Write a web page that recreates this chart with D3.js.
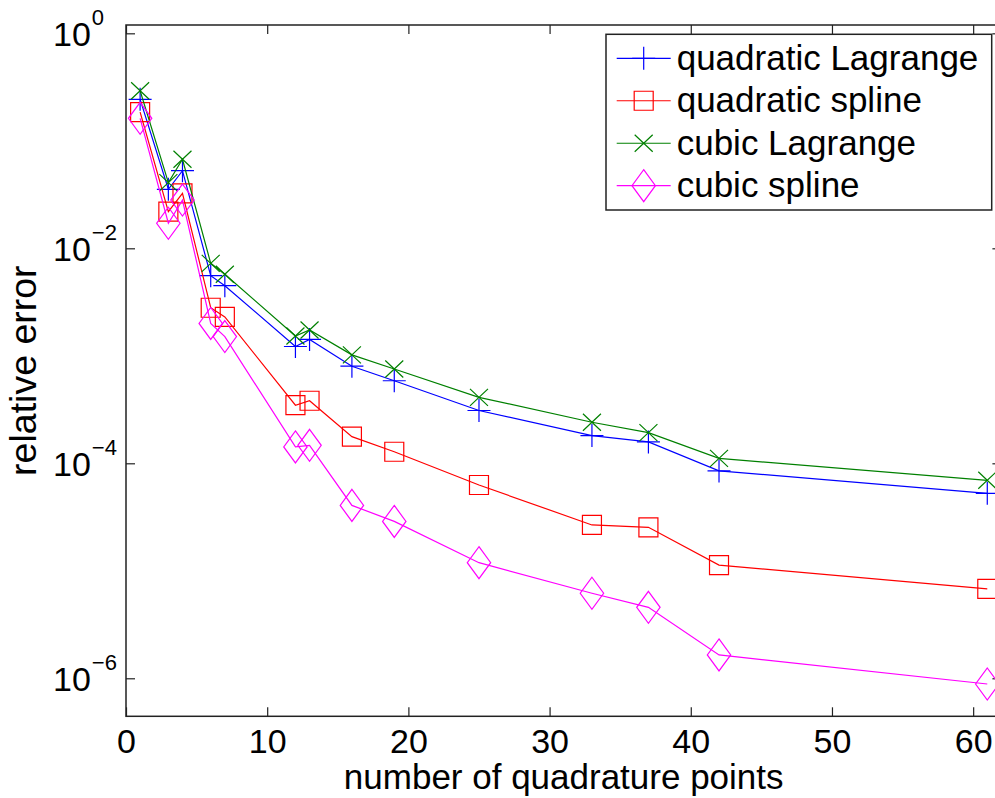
<!DOCTYPE html>
<html>
<head>
<meta charset="utf-8">
<script src="https://cdn.jsdelivr.net/npm/d3@7"></script>
<style>
  body { margin: 0; background: #fff; }
  svg { display: block; font-family: "Liberation Sans", Arial, Helvetica, sans-serif; }
</style>
</head>
<body>
<div id="chart"></div>
<script>
// number of quadrature points (x) and relative error of each method
const nPoints = [1, 3, 4, 6, 7, 12, 13, 16, 19, 25, 33, 37, 42, 61];
const quadLagrange = [0.243, 0.0354, 0.0527, 0.00556, 0.00449, 0.00122, 0.00142, 8.0e-4, 5.86e-4, 3.1e-4, 1.81e-4, 1.58e-4, 8.5e-5, 5.26e-5];
const quadSpline = [0.185, 0.0219, 0.0325, 0.0028, 0.0023, 3.47e-4, 3.82e-4, 1.77e-4, 1.28e-4, 6.28e-5, 2.67e-5, 2.54e-5, 1.13e-5, 6.78e-6];
const cubicLagrange = [0.292, 0.0408, 0.0673, 0.00725, 0.00573, 0.00153, 0.00174, 0.00102, 7.54e-4, 4.11e-4, 2.41e-4, 1.93e-4, 1.11e-4, 6.95e-5];
const cubicSpline = [0.162, 0.0171, 0.0281, 0.0020, 0.00151, 1.42e-4, 1.47e-4, 4.06e-5, 2.88e-5, 1.19e-5, 6.18e-6, 4.57e-6, 1.65e-6, 8.85e-7];
const seriesNames = ["quadratic Lagrange", "quadratic spline", "cubic Lagrange", "cubic spline"];
const xTickValues = [0, 10, 20, 30, 40, 50, 60];
const yTickValues = [1e-6, 1e-4, 1e-2, 1];
const xDomain = [0, 62];
const yDomain = [4.43e-7, 1.195];

const width = 995, height = 798;
const plot = {left: 126, right: 1001.4, top: 25, bottom: 716.3};
const tickLen = 9;

const series = [
    {name: seriesNames[0], values: quadLagrange, color: "#0000ff", marker: "plus"},
    {name: seriesNames[1], values: quadSpline, color: "#ff0000", marker: "square"},
    {name: seriesNames[2], values: cubicLagrange, color: "#008000", marker: "cross"},
    {name: seriesNames[3], values: cubicSpline, color: "#ff00ff", marker: "diamond"}
];

const markerPaths = {
    plus: "M-11.5,0H11.5M0,-11.5V11.5",
    cross: "M-9,-8.5L9,8.5M-9,8.5L9,-8.5",
    square: "M-9.5,-9.5H9.5V9.5H-9.5Z",
    diamond: "M0,-16L11.7,0L0,16L-11.7,0Z"
};

const svg = d3.select("#chart")
    .append("svg")
    .attr("width", width)
    .attr("height", height);

const x = d3.scaleLinear()
    .domain(xDomain)
    .range([plot.left, plot.right]);

const y = d3.scaleLog()
    .domain(yDomain)
    .range([plot.bottom, plot.top]);

// bottom axis, ticks pointing inward
svg.append("g")
    .attr("transform", `translate(0, ${plot.bottom})`)
    .call(d3.axisBottom(x)
        .tickValues(xTickValues)
        .tickSizeInner(-tickLen)
        .tickSizeOuter(0)
        .tickPadding(13)
        .tickFormat(d3.format("d")))
    .call(g => g.select(".domain").remove())
    .call(g => g.selectAll(".tick line").attr("stroke", "#222").attr("stroke-width", 1.2))
    .call(g => g.selectAll(".tick text")
        .attr("fill", "#000")
        .style("font-size", "34px"));

// top mirror ticks
svg.append("g")
    .attr("transform", `translate(0, ${plot.top})`)
    .call(d3.axisBottom(x)
        .tickValues(xTickValues)
        .tickSizeInner(tickLen)
        .tickSizeOuter(0)
        .tickFormat(""))
    .call(g => g.select(".domain").remove())
    .call(g => g.selectAll(".tick line").attr("stroke", "#222").attr("stroke-width", 1.2));

// left axis with 10^n labels
svg.append("g")
    .attr("transform", `translate(${plot.left}, 0)`)
    .call(d3.axisLeft(y)
        .tickValues(yTickValues)
        .tickSizeInner(-tickLen)
        .tickSizeOuter(0))
    .call(g => g.select(".domain").remove())
    .call(g => g.selectAll(".tick line").attr("stroke", "#222").attr("stroke-width", 1.2))
    .call(g => g.selectAll(".tick text").each(function(d) {
        var t = d3.select(this);
        var exp = Math.round(Math.log10(d));
        t.text("")
            .attr("x", -73)
            .attr("y", 12)
            .attr("dy", null)
            .attr("text-anchor", "start")
            .attr("fill", "#000")
            .style("font-size", "34px");
        t.append("tspan").text("10");
        t.append("tspan")
            .attr("dx", 1)
            .attr("dy", -21)
            .style("font-size", "22px")
            .text(exp < 0 ? "\u2212" + Math.abs(exp) : String(exp));
    }));

// right mirror ticks
svg.append("g")
    .attr("transform", `translate(${plot.right}, 0)`)
    .call(d3.axisLeft(y)
        .tickValues(yTickValues)
        .tickSizeInner(tickLen)
        .tickSizeOuter(0)
        .tickFormat(""))
    .call(g => g.select(".domain").remove())
    .call(g => g.selectAll(".tick line").attr("stroke", "#222").attr("stroke-width", 1.2));

// axes box
svg.append("rect")
    .attr("x", plot.left)
    .attr("y", plot.top)
    .attr("width", plot.right - plot.left)
    .attr("height", plot.bottom - plot.top)
    .attr("fill", "none")
    .attr("stroke", "#222")
    .attr("stroke-width", 1.5);

// axis labels
svg.append("text")
    .attr("x", (plot.left + plot.right) / 2)
    .attr("y", 789)
    .attr("text-anchor", "middle")
    .style("font-size", "35px")
    .text("number of quadrature points");

svg.append("text")
    .attr("text-anchor", "middle")
    .attr("transform", `translate(36, ${(plot.top + plot.bottom) / 2}) rotate(-90)`)
    .style("font-size", "37.5px")
    .text("relative error");

// series lines and markers
const line = d3.line()
    .x((d, i) => x(nPoints[i]))
    .y(d => y(d));

series.forEach(function(s) {
    svg.append("path")
        .datum(s.values)
        .attr("d", line)
        .attr("fill", "none")
        .attr("stroke", s.color)
        .attr("stroke-width", 1.2);

    svg.selectAll(null)
        .data(s.values)
        .enter()
        .append("path")
            .attr("transform", (d, i) => `translate(${x(nPoints[i])}, ${y(d)})`)
            .attr("d", markerPaths[s.marker])
            .attr("fill", "none")
            .attr("stroke", s.color)
            .attr("stroke-width", 1.2);
});

// legend
const legend = svg.append("g");
legend.append("rect")
    .attr("x", 606)
    .attr("y", 34.3)
    .attr("width", 385.7)
    .attr("height", 175.7)
    .attr("fill", "#fff")
    .attr("stroke", "#222")
    .attr("stroke-width", 1.5);

const rows = legend.selectAll(".row")
    .data(series)
    .enter()
    .append("g")
    .attr("class", "row")
    .attr("transform", (d, i) => `translate(0, ${58.3 + i * 42.47})`);

rows.append("line")
    .attr("x1", 616.7)
    .attr("x2", 670.7)
    .attr("stroke", d => d.color)
    .attr("stroke-width", 1.2);

rows.append("path")
    .attr("transform", "translate(643.7, 0)")
    .attr("d", d => markerPaths[d.marker])
    .attr("fill", "none")
    .attr("stroke", d => d.color)
    .attr("stroke-width", 1.2);

rows.append("text")
    .attr("x", 676.7)
    .attr("y", 11.7)
    .style("font-size", "35px")
    .text(d => d.name);
</script>
</body>
</html>
